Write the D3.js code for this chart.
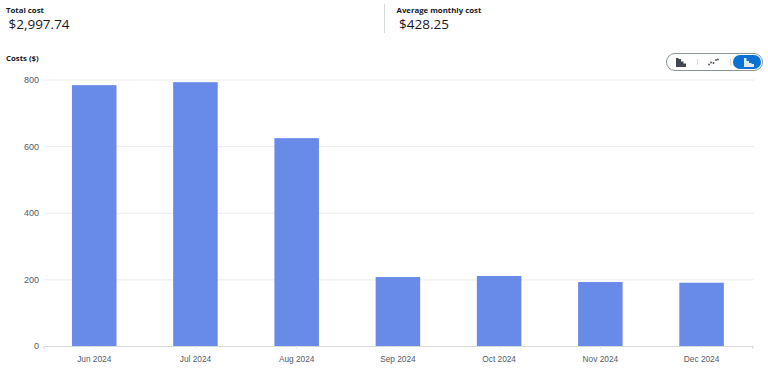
<!DOCTYPE html>
<html lang="en">
<head>
    <meta charset="UTF-8">
    <title>Costs</title>
    <script src="https://d3js.org/d3.v7.min.js"></script>
    <style>
        html, body { margin: 0; padding: 0; background: #fff; overflow: hidden; }
        svg { display: block; font-family: "Open Sans", "Noto Sans", sans-serif; }
        .label { font-size: 7.8px; font-weight: 700; fill: #16191f; }
        .big { font-size: 13.5px; fill: #16191f; }
        .tick text { font-size: 8.3px; fill: #545b64; }
        .y-axis .tick text { font-size: 9px; }
    </style>
</head>
<body>
    <svg id="chart"></svg>
    <script>
        const months = ["Jun 2024", "Jul 2024", "Aug 2024", "Sep 2024", "Oct 2024", "Nov 2024", "Dec 2024"];
        const costs = [783, 792, 624, 207, 210, 192, 190];
        const yTicks = [0, 200, 400, 600, 800];

        const width = 768, height = 369;
        const svg = d3.select("#chart").attr("width", width).attr("height", height);

        const x = d3.scaleBand().domain(months).range([43.6, 752.2]).paddingInner(0.56).paddingOuter(0.28);
        const y = d3.scaleLinear().domain([0, 800]).range([346, 79.5]);

        // summary header
        svg.append("text").attr("class", "label").attr("x", 6).attr("y", 12.5).text("Total cost");
        svg.append("text").attr("class", "big").attr("x", 8.5).attr("y", 29).text("$2,997.74");
        svg.append("line").attr("x1", 384.5).attr("x2", 384.5).attr("y1", 4).attr("y2", 33).attr("stroke", "#d5dbdb");
        svg.append("text").attr("class", "label").attr("x", 396.5).attr("y", 12.5).text("Average monthly cost");
        svg.append("text").attr("class", "big").attr("x", 399).attr("y", 29).text("$428.25");
        svg.append("text").attr("class", "label").attr("x", 6).attr("y", 61).text("Costs ($)");

        // grid + y axis
        const yAxis = svg.append("g")
            .attr("class", "y-axis")
            .attr("transform", "translate(44,0)")
            .call(d3.axisLeft(y).tickValues(yTicks).tickSize(0).tickPadding(5));
        yAxis.select(".domain").remove();
        yAxis.selectAll(".tick line")
            .attr("x2", 710)
            .attr("stroke", "#eaeded");

        // bars
        svg.selectAll("rect.bar")
            .data(costs)
            .enter().append("rect")
            .attr("class", "bar")
            .attr("x", (d, i) => x(months[i]))
            .attr("y", d => y(d))
            .attr("width", x.bandwidth())
            .attr("height", d => y(0) - y(d))
            .attr("fill", "#688ae8");

        // x axis
        const xAxis = svg.append("g")
            .attr("transform", "translate(0,346)")
            .call(d3.axisBottom(x).tickSize(3).tickPadding(7));
        xAxis.select(".domain").attr("stroke", "#d5dbdb").attr("stroke-width", 1.2);
        xAxis.selectAll(".tick line").attr("stroke", "#eaeded");

        // chart type toggle
        const toggle = svg.append("g").attr("transform", "translate(666,53)");
        toggle.append("rect").attr("x", 0.5).attr("y", 0.5).attr("width", 96).attr("height", 17).attr("rx", 8.5)
            .attr("fill", "#fff").attr("stroke", "#879596");
        toggle.append("path")
            .attr("d", "M74 2 H88 A7 7 0 0 1 88 16 H74 A7 7 0 0 1 74 2 Z")
            .attr("fill", "#0972d3");
        toggle.append("line").attr("x1", 31.5).attr("x2", 31.5).attr("y1", 6).attr("y2", 12).attr("stroke", "#d5dbdb");
        toggle.append("line").attr("x1", 64.5).attr("x2", 64.5).attr("y1", 6).attr("y2", 12).attr("stroke", "#d5dbdb");
        toggle.append("path").attr("d", "M10 5h2.5v9h-2.5zM12.5 6h2.5v8h-2.5zM15 8.5h2.5v5.5h-2.5zM17.5 10.5h2.5v3.5h-2.5z").attr("fill", "#414750");
        toggle.selectAll("circle.dot").data([[43, 11.5], [45, 9.5], [47.5, 10], [50, 7], [52, 6.5]]).enter()
            .append("circle").attr("class", "dot").attr("cx", d => d[0]).attr("cy", d => d[1]).attr("r", 0.9).attr("fill", "#414750");
        toggle.append("path").attr("d", "M78 5h2.5v9h-2.5zM80.5 8h2.5v6h-2.5zM83 10h2.5v4h-2.5zM85.5 11h2.5v3h-2.5z").attr("fill", "#dbe9f8");
    </script>
</body>
</html>
